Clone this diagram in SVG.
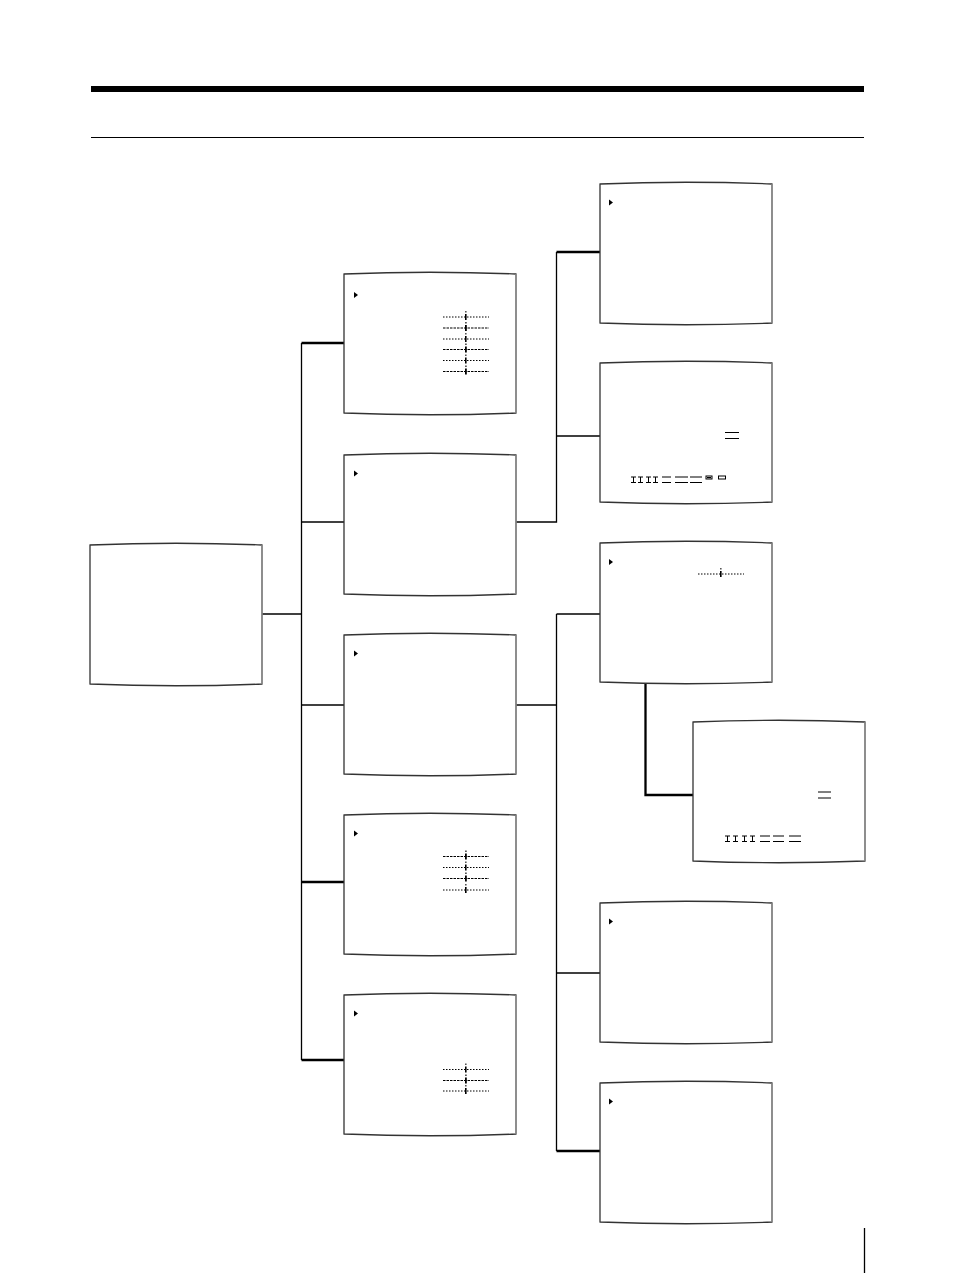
<svg xmlns="http://www.w3.org/2000/svg" xmlns:xlink="http://www.w3.org/1999/xlink" width="954" height="1274" viewBox="0 0 954 1274">
<style>
.frame{fill:#fff;stroke:#333;stroke-width:1.3}
.redge{fill:none;stroke:#999;stroke-width:1.3}
.cur{fill:#000}
.conn{fill:none;stroke:#000;stroke-width:1.3}
.thick{fill:none;stroke:#000;stroke-width:2.3}
.dots{stroke:#000;stroke-width:1;stroke-dasharray:1.5 1.5}
.dots2{stroke:#000;stroke-width:1.2;stroke-dasharray:2.5 1}
.ln{stroke:#000;stroke-width:1}
</style>
<defs>
<g id="scr">
<path class="frame" d="M0,2 Q86,-1.5 172,2 L172,141 Q86,144.5 0,141 Z"/>
<path class="redge" d="M172,2 L172,141"/>
</g>
<polygon id="tri" class="cur" points="0,0 4,3 0,6"/>
<g id="sl">
<line class="dots" x1="0" y1="0" x2="46" y2="0"/>
<rect x="22" y="-3" width="1.6" height="6" fill="#000"/>
<rect x="22" y="-6" width="1.6" height="1.5" fill="#555"/>
</g>
<g id="sl2">
<line class="dots2" x1="0" y1="0" x2="46" y2="0"/>
<rect x="22" y="-3" width="1.8" height="6" fill="#000"/>
<rect x="22" y="-6" width="1.8" height="1.5" fill="#555"/>
</g>
<g id="ib">
<line class="ln" x1="0" y1="0" x2="5" y2="0"/>
<line class="ln" x1="0" y1="5.5" x2="5" y2="5.5"/>
<line class="ln" x1="2.5" y1="0" x2="2.5" y2="5.5"/>
</g>
</defs>

<g id="header">
<rect x="91" y="86" width="773" height="6" fill="#000"/>
<line x1="91" y1="137.5" x2="864" y2="137.5" stroke="#000" stroke-width="1.2"/>
<line x1="864.5" y1="1228" x2="864.5" y2="1273" stroke="#000" stroke-width="1.3"/>
</g>

<g id="connectors">
<path class="conn" d="M262,614 H301.5"/>
<path class="conn" d="M301.5,343 V1060"/>
<path class="thick" d="M301.5,343 H344"/>
<path class="conn" d="M301.5,522 H344"/>
<path class="conn" d="M301.5,705 H344"/>
<path class="thick" d="M301.5,882 H344"/>
<path class="thick" d="M301.5,1060 H344"/>
<path class="conn" d="M516,522 H556.5 V252"/>
<path class="thick" d="M556.5,252 H600"/>
<path class="conn" d="M556.5,436 H600"/>
<path class="conn" d="M516,705 H556.5"/>
<path class="conn" d="M556.5,614 V1151"/>
<path class="conn" d="M556.5,614 H600"/>
<path class="conn" d="M556.5,973 H600"/>
<path class="thick" d="M556.5,1151 H600"/>
<path class="thick" d="M645.5,683 V795 H693"/>
</g>

<g id="main"><use xlink:href="#scr" x="90" y="543"/></g>

<g id="c2s1">
<use xlink:href="#scr" x="344" y="272"/>
<use xlink:href="#tri" x="354" y="292"/>
<use xlink:href="#sl" x="443" y="317"/>
<use xlink:href="#sl2" x="443" y="328"/>
<use xlink:href="#sl" x="443" y="339"/>
<use xlink:href="#sl2" x="443" y="349.5"/>
<use xlink:href="#sl" x="443" y="360.5"/>
<use xlink:href="#sl2" x="443" y="371.5"/>
</g>
<g id="c2s2">
<use xlink:href="#scr" x="344" y="453"/>
<use xlink:href="#tri" x="354" y="470.5"/>
</g>
<g id="c2s3">
<use xlink:href="#scr" x="344" y="633"/>
<use xlink:href="#tri" x="354" y="650.5"/>
</g>
<g id="c2s4">
<use xlink:href="#scr" x="344" y="813"/>
<use xlink:href="#tri" x="354" y="830.5"/>
<use xlink:href="#sl2" x="443" y="856.5"/>
<use xlink:href="#sl" x="443" y="867.5"/>
<use xlink:href="#sl2" x="443" y="878.5"/>
<use xlink:href="#sl" x="443" y="890"/>
</g>
<g id="c2s5">
<use xlink:href="#scr" x="344" y="993"/>
<use xlink:href="#tri" x="354" y="1010.5"/>
<use xlink:href="#sl" x="443" y="1069.5"/>
<use xlink:href="#sl2" x="443" y="1080.5"/>
<use xlink:href="#sl" x="443" y="1091"/>
</g>

<g id="c3s1">
<use xlink:href="#scr" x="600" y="182"/>
<use xlink:href="#tri" x="609" y="199.5"/>
</g>
<g id="c3s2">
<use xlink:href="#scr" x="600" y="361"/>
<line class="ln" x1="725" y1="432.5" x2="739" y2="432.5"/>
<line class="ln" x1="725" y1="438.5" x2="739" y2="438.5"/>
<use xlink:href="#ib" x="631" y="477"/>
<use xlink:href="#ib" x="638" y="477"/>
<use xlink:href="#ib" x="646" y="477"/>
<use xlink:href="#ib" x="653" y="477"/>
<line class="ln" x1="662" y1="477" x2="671" y2="477"/>
<line class="ln" x1="662" y1="482.5" x2="671" y2="482.5"/>
<line class="ln" x1="675" y1="477" x2="688" y2="477"/>
<line class="ln" x1="675" y1="482.5" x2="688" y2="482.5"/>
<line class="ln" x1="690" y1="477" x2="702" y2="477"/>
<line class="ln" x1="690" y1="482.5" x2="702" y2="482.5"/>
<rect x="706" y="476" width="6" height="3" fill="#fff" stroke="#000" stroke-width="1"/>
<rect x="707" y="477" width="4" height="1.2" fill="#000"/>
<rect x="718.5" y="476" width="7" height="3" fill="#fff" stroke="#000" stroke-width="1"/>
</g>
<g id="c3s3">
<use xlink:href="#scr" x="600" y="541"/>
<use xlink:href="#tri" x="609" y="559"/>
<use xlink:href="#sl" x="698" y="574"/>
</g>
<g id="sub">
<use xlink:href="#scr" x="693" y="720"/>
<line class="ln" x1="818" y1="792" x2="831" y2="792"/>
<line class="ln" x1="818" y1="798" x2="831" y2="798"/>
<use xlink:href="#ib" x="725" y="836"/>
<use xlink:href="#ib" x="733" y="836"/>
<use xlink:href="#ib" x="742" y="836"/>
<use xlink:href="#ib" x="750" y="836"/>
<line class="ln" x1="760" y1="836" x2="770" y2="836"/>
<line class="ln" x1="760" y1="841.5" x2="770" y2="841.5"/>
<line class="ln" x1="773" y1="836" x2="784" y2="836"/>
<line class="ln" x1="773" y1="841.5" x2="784" y2="841.5"/>
<line class="ln" x1="789" y1="836" x2="801" y2="836"/>
<line class="ln" x1="789" y1="841.5" x2="801" y2="841.5"/>
</g>
<g id="c3s5">
<use xlink:href="#scr" x="600" y="901"/>
<use xlink:href="#tri" x="609" y="918.5"/>
</g>
<g id="c3s6">
<use xlink:href="#scr" x="600" y="1081"/>
<use xlink:href="#tri" x="609" y="1098.5"/>
</g>
</svg>
